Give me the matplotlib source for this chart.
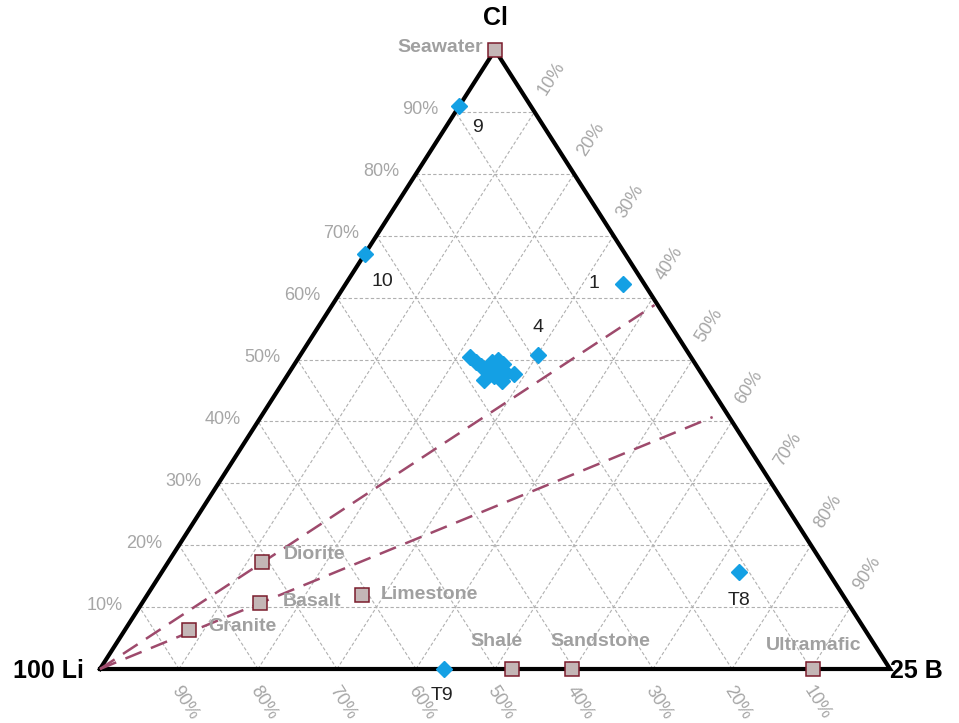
import numpy as np
import matplotlib.pyplot as plt

plt.rcParams['font.family'] = ['Liberation Sans', 'DejaVu Sans']

# compositions in percent (Li + B + Cl = 100)
sample_labels = ['9', '10', '1', '4', 'T8', 'T9']
sample_b = [0.0, 0.0, 35.1, 30.1, 73.0, 43.5]
sample_cl = [91.0, 67.0, 62.2, 50.7, 15.7, 0.0]
label_offsets = [(18, -22), (18, -27), (-29, 0), (0, 28), (0, -29), (-2, -27)]

# unlabelled cluster of samples
cluster_b = [21.6, 22.8, 23.7, 24.6, 24.8, 25.4, 26.4, 26.4, 27.5, 28.6, 26.2, 27.6, 25.3, 25.4]
cluster_cl = [50.4, 49.6, 49.0, 48.5, 49.6, 49.9, 49.3, 48.3, 47.8, 47.7, 47.3, 46.5, 46.7, 48.0]

# reference end-members
ref_names = ['Seawater', 'Diorite', 'Basalt', 'Granite', 'Limestone', 'Shale', 'Sandstone', 'Ultramafic']
ref_b = [0.0, 11.9, 14.9, 8.1, 27.2, 52.2, 59.7, 90.3]
ref_cl = [100.0, 17.3, 10.7, 6.3, 12.0, 0.0, 0.0, 0.0]
ref_offsets = [(-12, 3, 'right'), (21, 7, 'left'), (23, 1, 'left'), (19, 4, 'left'),
               (18, 0, 'left'), (-16, 27, 'center'), (29, 27, 'center'), (0, 24, 'center')]

# dashed lines from the Li apex
line_end_b = [40.8, 57.2]
line_end_cl = [58.8, 40.7]

ticks = [10, 20, 30, 40, 50, 60, 70, 80, 90]


def to_xy(b, cl):
    b = np.asarray(b, dtype=float) / 100
    cl = np.asarray(cl, dtype=float) / 100
    return b + cl / 2, cl


W, H = 959, 723
fig = plt.figure(figsize=(W / 100, H / 100), dpi=100)
# triangle vertices in pixels: Li (100,669), B (890,669), Cl (495,50)
ax = fig.add_axes([100 / W, (H - 669) / H, 790 / W, 619 / H])
ax.set_xlim(0, 1)
ax.set_ylim(0, 1)
ax.axis('off')

grid_kw = dict(color='#b0b0b0', lw=0.8, ls=(0, (3, 2)), zorder=1)
for k in ticks:
    # constant Cl
    x, y = to_xy([0, 100 - k], [k, k])
    ax.plot(x, y, **grid_kw)
    # constant B
    x, y = to_xy([k, k], [0, 100 - k])
    ax.plot(x, y, **grid_kw)
    # constant Li
    x, y = to_xy([100 - k, 0], [0, 100 - k])
    ax.plot(x, y, **grid_kw)

# triangle outline
x, y = to_xy([0, 100, 0, 0], [0, 0, 100, 0])
ax.plot(x, y, color='black', lw=3, solid_joinstyle='miter', zorder=3, clip_on=False)

# tick labels
tick_kw = dict(color='#a6a6a6', fontsize=13, textcoords='offset pixels', annotation_clip=False)
for k in ticks:
    x, y = to_xy(0, k)
    ax.annotate(f'{k}%', (x, y), xytext=(-17, 2), ha='right', va='center', **tick_kw)
    x, y = to_xy(k, 100 - k)
    ax.annotate(f'{k}%', (x, y), xytext=(17, 34), ha='center', va='center',
                rotation=57.5, rotation_mode='anchor', **tick_kw)
    x, y = to_xy(100 - k, 0)
    ax.annotate(f'{k}%', (x, y), xytext=(6, -34), ha='center', va='center',
                rotation=-57.5, rotation_mode='anchor', **tick_kw)

# dashed lines from Li apex
for b, cl in zip(line_end_b, line_end_cl):
    x, y = to_xy([0, b], [0, cl])
    ax.plot(x, y, color='#9e4a6c', lw=1.8, ls=(0, (7, 4)), zorder=4, clip_on=False)

# reference materials
x, y = to_xy(ref_b, ref_cl)
ax.plot(x, y, 's', ms=10, mfc='#c4b6b6', mec='#7a1c2c', mew=1.1, zorder=6, clip_on=False)
for name, xi, yi, (dx, dy, ha) in zip(ref_names, x, y, ref_offsets):
    ax.annotate(name, (xi, yi), xytext=(dx, dy), textcoords='offset pixels',
                ha=ha, va='center', fontsize=14, fontweight='bold', color='#a0a0a0',
                annotation_clip=False, zorder=7)

# samples
x, y = to_xy(cluster_b, cluster_cl)
ax.plot(x, y, 'D', ms=8, color='#14a0e4', mec='#14a0e4', zorder=8, clip_on=False)
x, y = to_xy(sample_b, sample_cl)
ax.plot(x, y, 'D', ms=8, color='#14a0e4', mec='#14a0e4', zorder=8, clip_on=False)
for lab, xi, yi, (dx, dy) in zip(sample_labels, x, y, label_offsets):
    ax.annotate(lab, (xi, yi), xytext=(dx, dy), textcoords='offset pixels',
                ha='center', va='center', fontsize=14, color='#222222',
                annotation_clip=False, zorder=9)

# apex labels
ax.annotate('Cl', (0.5, 1), xytext=(0, 32), textcoords='offset pixels', ha='center',
            va='center', fontsize=18, fontweight='bold', annotation_clip=False)
ax.annotate('100 Li', (0, 0), xytext=(-16, -2), textcoords='offset pixels', ha='right',
            va='center', fontsize=18, fontweight='bold', annotation_clip=False)
ax.annotate('25 B', (1, 0), xytext=(0, -2), textcoords='offset pixels', ha='left',
            va='center', fontsize=18, fontweight='bold', annotation_clip=False)

fig.savefig('out.png', dpi=100)
